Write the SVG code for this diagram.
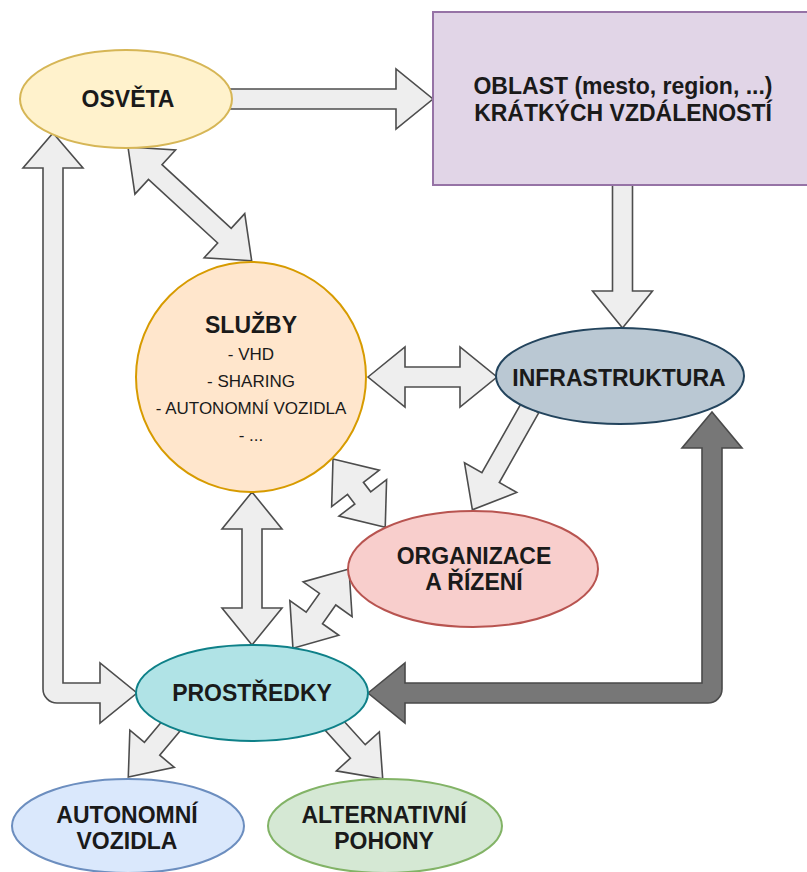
<svg xmlns="http://www.w3.org/2000/svg" width="807" height="872" viewBox="0 0 807 872">
<style>
.arr{fill:#eeeeee;stroke:#4d4d4d;stroke-width:1.6;stroke-linejoin:miter}
.dark{fill:#777777;stroke:#4a4a4a;stroke-width:1.6}
.t{font-family:"Liberation Sans",Arial,sans-serif;font-weight:bold;font-size:23px;fill:#1a1a1a;text-anchor:middle}
.s{font-family:"Liberation Sans",Arial,sans-serif;font-size:17px;fill:#1a1a1a;text-anchor:middle}
.n{stroke-width:2}
</style>
<rect width="807" height="872" fill="#ffffff"/>
<g id="connectors">
  <polygon class="arr" transform="translate(230,99)" points="0,-10 166,-10 166,-30 203,0 166,30 166,10 0,10"/>
  <polygon class="arr" transform="translate(622.5,184) rotate(90)" points="0,-10 107,-10 107,-30 144,0 107,30 107,10 0,10"/>
  <polygon class="arr" transform="translate(128,147) rotate(42.6)" points="0,0 37,-30 37,-10 131,-10 131,-30 168,0 131,30 131,10 37,10 37,30"/>
  <polygon class="arr" transform="translate(368,377)" points="0,0 37,-30 37,-10 92,-10 92,-30 129,0 92,30 92,10 37,10 37,30"/>
  <polygon class="arr" transform="translate(530,408) rotate(119.5)" points="0,-10 80,-10 80,-30 117,0 80,30 80,10 0,10"/>
  <polygon class="arr" transform="translate(333,459) rotate(52.6)" points="0,0 37,-30 37,-10 49,-10 49,-30 86,0 49,30 49,10 37,10 37,30"/>
  <polygon class="arr" transform="translate(252,492) rotate(90)" points="0,0 37,-30 37,-10 116,-10 116,-30 153,0 116,30 116,10 37,10 37,30"/>
  <polygon class="arr" transform="translate(349,569) rotate(125.3)" points="0,0 37,-30 37,-10 60,-10 60,-30 97,0 60,30 60,10 37,10 37,30"/>
  <polygon class="arr" transform="translate(172,725) rotate(130)" points="0,-10 31,-10 31,-29 68,0 31,29 31,10 0,10"/>
  <polygon class="arr" transform="translate(333,724) rotate(47.8)" points="0,-10 37,-10 37,-29 74,0 37,29 37,10 0,10"/>
  <path class="arr" d="M53,133 L83,168 L63,168 L63,683 L100,683 L100,663 L137,693 L100,723 L100,703 L57,703 A14,14 0 0 1 43,689 L43,168 L23,168 Z"/>
  <path class="dark" d="M368,693 L405,663 L405,683 L702,683 L702,448 L682,448 L712,412 L742,448 L722,448 L722,689 A14,14 0 0 1 708,703 L405,703 L405,723 Z"/>
</g>
<g id="osveta">
  <ellipse class="n" cx="126" cy="99" rx="106" ry="49" fill="#fff2cc" stroke="#d6b656"/>
  <text class="t" x="128" y="107">OSVĚTA</text>
</g>
<g id="oblast">
  <rect class="n" x="433" y="12" width="385" height="173" fill="#e1d5e7" stroke="#9673a6"/>
  <text class="t" x="623" y="94">OBLAST (mesto, region, ...)</text>
  <text class="t" x="623" y="121">KRÁTKÝCH VZDÁLENOSTÍ</text>
</g>
<g id="sluzby">
  <circle class="n" cx="251" cy="377" r="115" fill="#ffe6cc" stroke="#d79b00"/>
  <text class="t" x="251" y="333">SLUŽBY</text>
  <text class="s" x="251" y="360">- VHD</text>
  <text class="s" x="251" y="387">- SHARING</text>
  <text class="s" x="251" y="414">- AUTONOMNÍ VOZIDLA</text>
  <text class="s" x="251" y="441">- ...</text>
</g>
<g id="infrastruktura">
  <ellipse class="n" cx="620" cy="376" rx="124" ry="48" fill="#bac8d3" stroke="#23445d"/>
  <text class="t" x="619" y="386">INFRASTRUKTURA</text>
</g>
<g id="organizace">
  <ellipse class="n" cx="473" cy="569" rx="125" ry="58" fill="#f8cecc" stroke="#b85450"/>
  <text class="t" x="474" y="564">ORGANIZACE</text>
  <text class="t" x="474" y="590">A ŘÍZENÍ</text>
</g>
<g id="prostredky">
  <ellipse class="n" cx="252" cy="693" rx="116" ry="48" fill="#b0e3e6" stroke="#0e8088"/>
  <text class="t" x="252" y="701">PROSTŘEDKY</text>
</g>
<g id="autonomni">
  <ellipse class="n" cx="128" cy="826" rx="116" ry="47" fill="#dae8fc" stroke="#6c8ebf"/>
  <text class="t" x="127" y="823">AUTONOMNÍ</text>
  <text class="t" x="127" y="849">VOZIDLA</text>
</g>
<g id="alternativni">
  <ellipse class="n" cx="385" cy="826" rx="117" ry="47" fill="#d5e8d4" stroke="#82b366"/>
  <text class="t" x="384" y="823">ALTERNATIVNÍ</text>
  <text class="t" x="384" y="849">POHONY</text>
</g>
</svg>
